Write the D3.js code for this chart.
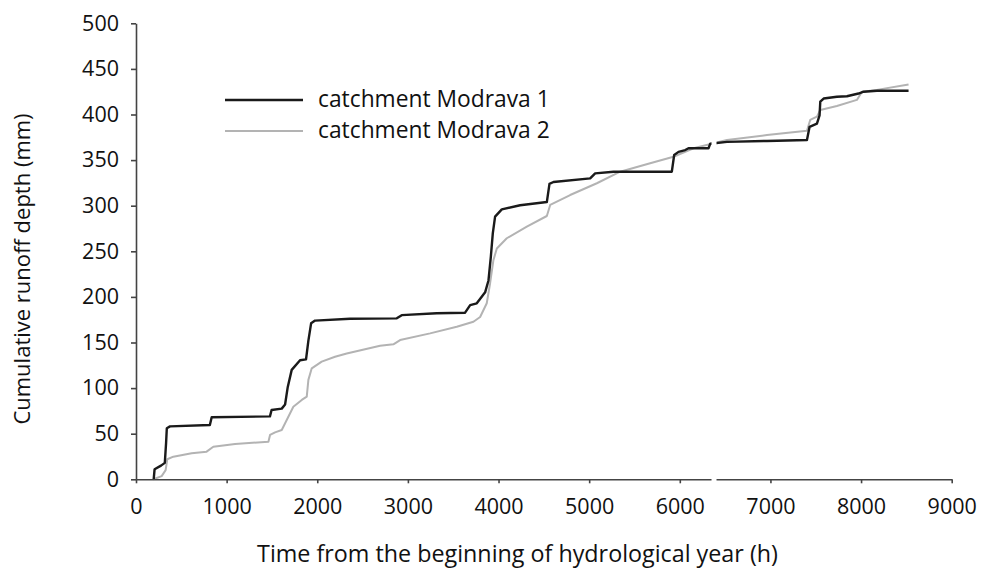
<!DOCTYPE html>
<html>
<head>
<meta charset="utf-8">
<script src="https://cdn.jsdelivr.net/npm/d3@7"></script>
<style>
  html, body { margin: 0; padding: 0; background: #fff; }
  svg { display: block; font-family: "Open Sans", sans-serif; }
</style>
</head>
<body>
<div id="chart"></div>
<script>
// cumulative runoff
const hours1 = [195, 205, 276, 318, 332, 340, 375, 815, 835, 1478, 1496, 1608, 1645, 1674, 1718, 1810, 1876, 1902, 1932, 1976,
  2362, 2877, 2932, 3318, 3631, 3687, 3760, 3852, 3889, 3915, 3937, 3962, 4036, 4238, 4533, 4562, 4606, 5011, 5066, 5269,
  5912, 5938, 5986, 6060, 6096, 6317, 6336, 6520, 6962, 7403, 7432, 7513, 7542, 7550, 7587, 7733, 7844, 7972, 8028, 8175, 8524];
const runoff1 = [0, 11, 15, 18, 40, 56, 58, 59.5, 68, 69, 76, 77.5, 82, 101, 120, 130.5, 131.5, 152, 171, 174,
  176, 176.5, 180, 182, 182.7, 191, 193, 205, 218, 244, 270, 288, 296, 300.5, 304, 324, 326, 330, 335.5, 337.3,
  337.3, 355.6, 359, 361, 363, 363, 368, 370, 371, 372, 386.5, 390, 399, 414, 417.5, 419.5, 420, 423, 425, 426, 426];

const hours2 = [191, 283, 327, 345, 412, 614, 779, 853, 1093, 1461, 1479, 1534, 1608, 1663, 1736, 1829, 1884, 1902, 1939, 2049,
  2196, 2325, 2693, 2840, 2914, 3245, 3539, 3723, 3797, 3870, 3907, 3944, 3981, 4091, 4312, 4533, 4570, 4790, 5085, 5342,
  5673, 5930, 6151, 6520, 6962, 7403, 7439, 7513, 7550, 7733, 7954, 8010, 8175, 8524];
const runoff2 = [0, 3.5, 10, 22, 24.8, 28.5, 30.3, 35.7, 38.7, 41.2, 48.6, 51.5, 54, 65, 79.6, 87, 90.6, 109, 121.7, 129,
  134.4, 138, 146.5, 148, 152.7, 160, 167.3, 172.8, 178, 193, 215, 240.5, 253, 264.3, 277, 288.7, 300.8, 311.7, 324.6, 337.3,
  346.5, 353.7, 363, 372, 377.5, 382.2, 394, 397.6, 405, 409.3, 416, 425, 427, 433];

const seriesNames = ['catchment Modrava 1', 'catchment Modrava 2'];
const xTicks = [0, 1000, 2000, 3000, 4000, 5000, 6000, 7000, 8000, 9000];
const yTicks = [0, 50, 100, 150, 200, 250, 300, 350, 400, 450, 500];

const width = 984;
const height = 568;
const margin = { top: 23.3, right: 32.3, bottom: 88.7, left: 136 };

const svg = d3.select('#chart')
  .append('svg')
  .attr('width', width)
  .attr('height', height);

const x = d3.scaleLinear()
  .domain([0, 9000])
  .range([margin.left, width - margin.right]);

const y = d3.scaleLinear()
  .domain([0, 500])
  .range([height - margin.bottom, margin.top]);

const colors = ['#1a1a1a', '#b3b3b3'];
const widths = [2.4, 2];

const series = [
  hours1.map((h, i) => [h, runoff1[i]]),
  hours2.map((h, i) => [h, runoff2[i]])
];

const line = d3.line()
  .x((d) => x(d[0]))
  .y((d) => y(d[1]));

// grey first so the black sits on top
[1, 0].forEach((k) => {
  svg.append('path')
    .datum(series[k])
    .attr('fill', 'none')
    .attr('stroke', colors[k])
    .attr('stroke-width', widths[k])
    .attr('stroke-linejoin', 'round')
    .attr('d', line);
});

// axes
const xAxis = svg.append('g')
  .attr('transform', `translate(0,${y(0)})`)
  .call(d3.axisBottom(x).tickValues(xTicks).tickFormat(d3.format('d')).tickSize(4).tickSizeOuter(0).tickPadding(15));

const yAxis = svg.append('g')
  .attr('transform', `translate(${x(0)},0)`)
  .call(d3.axisLeft(y).tickValues(yTicks).tickSize(5).tickSizeOuter(0).tickPadding(12));

[xAxis, yAxis].forEach((g) => {
  g.selectAll('.domain, .tick line').attr('stroke', '#444').attr('stroke-width', 1.6);
  g.selectAll('.tick text').attr('fill', '#111').attr('font-size', 21.5).attr('font-family', '"Open Sans", sans-serif');
});

// scan gap seen in the original figure
svg.append('rect')
  .attr('x', x(6350))
  .attr('y', 0)
  .attr('width', x(6405) - x(6350))
  .attr('height', y(0) + 2)
  .attr('fill', '#fff');

// axis titles
svg.append('text')
  .attr('x', 517.5)
  .attr('y', 562)
  .attr('text-anchor', 'middle')
  .attr('font-size', 23.3)
  .attr('fill', '#111')
  .text('Time from the beginning of hydrological year (h)');

svg.append('text')
  .attr('transform', 'translate(30,269) rotate(-90)')
  .attr('text-anchor', 'middle')
  .attr('font-size', 22)
  .attr('fill', '#111')
  .text('Cumulative runoff depth (mm)');

// legend
const legendG = svg.append('g').attr('transform', 'translate(225,100)');
const item = legendG.selectAll('g')
  .data(seriesNames)
  .enter()
  .append('g')
  .attr('transform', (d, i) => `translate(0,${i * 31})`);

item.append('line')
  .attr('x1', 0)
  .attr('x2', 78)
  .attr('stroke', (d, i) => colors[i])
  .attr('stroke-width', (d, i) => widths[i]);

item.append('text')
  .attr('x', 93)
  .attr('dy', '0.32em')
  .attr('font-size', 22.8)
  .attr('fill', '#111')
  .text((d) => d);
</script>
</body>
</html>
